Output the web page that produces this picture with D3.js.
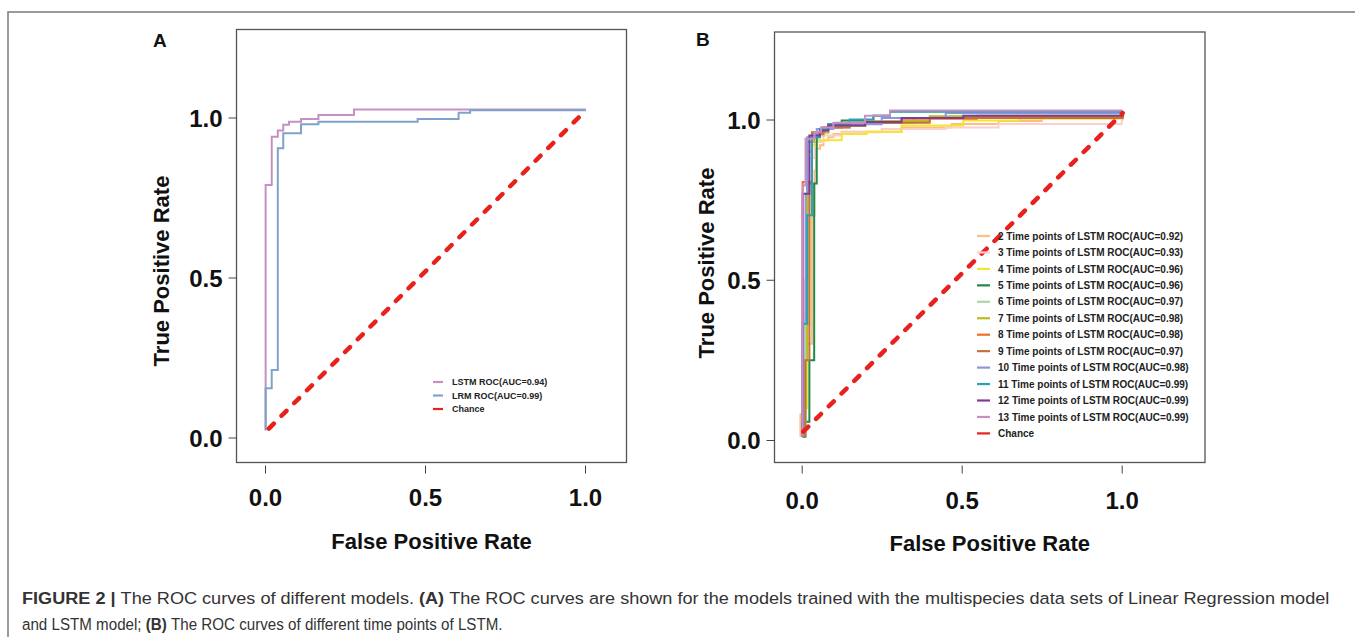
<!DOCTYPE html>
<html>
<head>
<meta charset="utf-8">
<script src="https://cdnjs.cloudflare.com/ajax/libs/d3/7.8.5/d3.min.js"></script>
<style>
    body { margin: 0; background: #fff; }
    svg { display: block; font-family: "Liberation Sans", Arial, sans-serif; }
</style>
</head>
<body>
<svg id="chart" width="1355" height="637"></svg>
<script>
// ---- Data ----
// Panel A: [fpr, tpr] points, each point = where the curve rises (step after)
const lstmA = [[0.002, 0.023], [0.002, 0.789], [0.021, 0.940], [0.040, 0.959], [0.057, 0.977],
    [0.075, 0.987], [0.1125, 0.995], [0.167, 1.008], [0.278, 1.025], [1.003, 1.025]];
const lrmA = [[0.002, 0.023], [0.002, 0.154], [0.021, 0.211], [0.040, 0.904], [0.057, 0.951],
    [0.1125, 0.979], [0.167, 0.987], [0.477, 0.995], [0.605, 1.015], [0.641, 1.023], [1.003, 1.023]];
const chanceA = [[0.012, 0.028], [1.003, 1.023]];
const seriesA = ['LSTM ROC(AUC=0.94)', 'LRM ROC(AUC=0.99)'];
const colorsA = ['#c590c2', '#7fa2cc'];

// Panel B: one curve per number of time points
const timePoints = [2, 3, 4, 5, 6, 7, 8, 9, 10, 11, 12, 13];
const aucB = [0.92, 0.93, 0.96, 0.96, 0.97, 0.98, 0.98, 0.97, 0.98, 0.99, 0.99, 0.99];
const colorsB = ['#fdbd85', '#f9cfd0', '#f5e52e', '#1f8a45', '#a9d8a3', '#bdbb22',
    '#f26c2b', '#c4713c', '#8f97d7', '#28a1bb', '#7a3d9e', '#c78fc4'];
const curvesB = [
    [[-0.004, 0.01], [-0.004, 0.08], [0.010, 0.30], [0.032, 0.70], [0.040, 0.84], [0.045, 0.909], [0.057, 0.92],
        [0.068, 0.935], [0.083, 0.945], [0.099, 0.955], [0.125, 0.962], [0.312, 0.975], [0.469, 0.986],
        [0.615, 0.995], [0.75, 1.005], [1.003, 1.015]],
    [[0.003, 0.01], [0.010, 0.50], [0.024, 0.88], [0.040, 0.93], [0.068, 0.95], [0.125, 0.96], [0.25, 0.97],
        [0.45, 0.975], [0.615, 0.986], [1.0, 1.0], [1.003, 1.02]],
    [[0.003, 0.01], [0.010, 0.10], [0.017, 0.36], [0.024, 0.80], [0.032, 0.92], [0.047, 0.935], [0.125, 0.955],
        [0.203, 0.962], [0.312, 0.981], [0.505, 0.997], [0.68, 1.002], [1.003, 1.02]],
    [[0.003, 0.01], [0.003, 0.057], [0.024, 0.249], [0.039, 0.80], [0.047, 0.945], [0.057, 0.96], [0.083, 0.985],
        [0.125, 0.997], [0.224, 1.012], [0.276, 1.025], [1.003, 1.025]],
    [[0.003, 0.01], [0.012, 0.40], [0.017, 0.90], [0.032, 0.95], [0.068, 0.975], [0.15, 0.99], [0.35, 1.005],
        [0.5, 1.012], [1.003, 1.02]],
    [[0.003, 0.01], [0.010, 0.25], [0.017, 0.93], [0.039, 0.96], [0.083, 0.98], [0.2, 0.995], [0.4, 1.01],
        [1.003, 1.02]],
    [[0.003, 0.01], [0.003, 0.805], [0.032, 0.945], [0.039, 0.955], [0.068, 0.975], [0.125, 0.99],
        [0.312, 1.002], [0.547, 1.012], [1.003, 1.02]],
    [[0.003, 0.01], [0.012, 0.249], [0.024, 0.80], [0.032, 0.96], [0.068, 0.975], [0.15, 0.99], [0.4, 1.005],
        [1.003, 1.02]],
    [[0.003, 0.01], [0.003, 0.363], [0.012, 0.768], [0.017, 0.945], [0.047, 0.97], [0.099, 0.985],
        [0.25, 1.005], [0.45, 1.02], [1.003, 1.025]],
    [[0.003, 0.01], [0.005, 0.363], [0.017, 0.701], [0.032, 0.945], [0.057, 0.97], [0.083, 0.985],
        [0.15, 1.0], [0.224, 1.012], [0.276, 1.025], [1.003, 1.025]],
    [[0.003, 0.01], [0.003, 0.768], [0.024, 0.95], [0.057, 0.966], [0.083, 0.981], [0.198, 0.992],
        [0.312, 1.005], [0.505, 1.012], [1.003, 1.02]],
    [[0.003, 0.01], [0.003, 0.794], [0.012, 0.94], [0.040, 0.96], [0.060, 0.975], [0.099, 0.99],
        [0.198, 1.012], [0.276, 1.028], [1.003, 1.028]]
];
const chanceB = [[0.005, 0.026], [1.003, 1.02]];

const tickValues = [0, 0.5, 1];
const chanceColor = '#e8211d';

const caption1 = [
    { t: 'FIGURE 2 | ', b: true },
    { t: 'The ROC curves of different models. ', b: false },
    { t: '(A) ', b: true },
    { t: 'The ROC curves are shown for the models trained with the multispecies data sets of Linear Regression model', b: false }
];
const caption2 = [
    { t: 'and LSTM model; ', b: false },
    { t: '(B) ', b: true },
    { t: 'The ROC curves of different time points of LSTM.', b: false }
];

const svg = d3.select('#chart');

// Outer figure frame (top and left edges)
svg.append('path')
    .attr('d', 'M8,637 L8,12 L1355,12')
    .attr('fill', 'none')
    .attr('stroke', '#7a7a7a')
    .attr('stroke-width', 1.5);

/**
 * Draw one ROC panel
 */
function drawPanel(cfg) {
    const g = svg.append('g');
    const x = d3.scaleLinear().domain([0, 1]).range(cfg.xRange);
    const y = d3.scaleLinear().domain([0, 1]).range(cfg.yRange);
    const b = cfg.box;

    // Plot box
    g.append('rect')
        .attr('x', b.x0).attr('y', b.y0)
        .attr('width', b.x1 - b.x0).attr('height', b.y1 - b.y0)
        .attr('fill', 'none')
        .attr('stroke', '#555')
        .attr('stroke-width', 1.3);

    // Axes
    const yAxis = g.append('g')
        .attr('transform', `translate(${b.x0},0)`)
        .call(d3.axisLeft(y).tickValues(tickValues).tickFormat(d3.format('.1f')).tickSize(8).tickPadding(6));
    const xAxis = g.append('g')
        .attr('transform', `translate(0,${b.y1 + 3})`)
        .call(d3.axisBottom(x).tickValues(tickValues).tickFormat(d3.format('.1f')).tickSize(8));
    [yAxis, xAxis].forEach(a => {
        a.select('.domain').remove();
        a.selectAll('line').attr('stroke', '#444');
        a.selectAll('text')
            .style('font-size', '24px')
            .style('font-weight', 'bold')
            .attr('fill', '#111');
    });
    xAxis.selectAll('text').attr('y', cfg.xLabelY).attr('dy', 0);
    yAxis.selectAll('text').attr('dy', '0.36em');

    // Axis titles
    g.append('text')
        .attr('x', (b.x0 + b.x1) / 2)
        .attr('y', cfg.xTitleY)
        .attr('text-anchor', 'middle')
        .style('font-size', '22px')
        .style('font-weight', 'bold')
        .attr('fill', '#111')
        .text('False Positive Rate');
    g.append('text')
        .attr('transform', `translate(${cfg.yTitleX},${cfg.yTitleC}) rotate(-90)`)
        .attr('text-anchor', 'middle')
        .attr('dy', '0.36em')
        .style('font-size', '22px')
        .style('font-weight', 'bold')
        .attr('fill', '#111')
        .text('True Positive Rate');

    // Panel letter
    g.append('text')
        .attr('x', cfg.letterX).attr('y', cfg.letterY)
        .style('font-size', '19px')
        .style('font-weight', 'bold')
        .attr('fill', '#111')
        .text(cfg.letter);

    // Curves
    const line = d3.line()
        .x(d => x(d[0]))
        .y(d => y(d[1]))
        .curve(d3.curveStepAfter);
    cfg.curves.forEach((c, i) => {
        g.append('path')
            .attr('d', line(c))
            .attr('fill', 'none')
            .attr('stroke', cfg.colors[i])
            .attr('stroke-width', 2);
    });

    // Chance diagonal
    g.append('path')
        .attr('d', d3.line().x(d => x(d[0])).y(d => y(d[1]))(cfg.chance))
        .attr('fill', 'none')
        .attr('stroke', chanceColor)
        .attr('stroke-width', 4.5)
        .attr('stroke-linecap', 'round')
        .attr('stroke-dasharray', '7,11');

    // Legend
    const lg = cfg.legend;
    const names = cfg.names.concat(['Chance']);
    const cols = cfg.colors.concat([chanceColor]);
    names.forEach((n, i) => {
        const yy = lg.y + i * lg.step;
        g.append('line')
            .attr('x1', lg.x).attr('x2', lg.x + lg.len)
            .attr('y1', yy).attr('y2', yy)
            .attr('stroke', cols[i])
            .attr('stroke-width', 2.2);
        g.append('text')
            .attr('x', lg.tx).attr('y', yy)
            .attr('dy', '0.36em')
            .style('font-size', lg.size + 'px')
            .style('font-weight', 'bold')
            .attr('fill', '#222')
            .text(n);
    });
}

drawPanel({
    letter: 'A', letterX: 153, letterY: 47,
    box: { x0: 236.5, y0: 29.5, x1: 626.5, y1: 462.5 },
    xRange: [265, 585], yRange: [437.5, 117.5],
    xLabelY: 40, xTitleY: 549, yTitleX: 161, yTitleC: 271,
    curves: [lstmA, lrmA], colors: colorsA, names: seriesA, chance: chanceA,
    legend: { x: 433, len: 10, tx: 452, y: 382, step: 13.5, size: 9 }
});

drawPanel({
    letter: 'B', letterX: 696, letterY: 46,
    box: { x0: 774.5, y0: 32, x1: 1205, y1: 462.5 },
    xRange: [801.7, 1121.7], yRange: [440, 119.5],
    xLabelY: 43, xTitleY: 551, yTitleX: 706, yTitleC: 263,
    curves: curvesB, colors: colorsB,
    names: timePoints.map((t, i) => `${t} Time points of LSTM ROC(AUC=${aucB[i].toFixed(2)})`),
    chance: chanceB,
    legend: { x: 977, len: 13, tx: 998, y: 236, step: 16.45, size: 10 }
});

// Caption: condensed look, squeezed horizontally to the reference width
function captionLine(parts, yPos, width) {
    const g = svg.append('g');
    const t = g.append('text')
        .attr('x', 0).attr('y', 0)
        .style('font-size', '17px')
        .attr('fill', '#333');
    parts.forEach(p => {
        t.append('tspan')
            .style('font-weight', p.b ? 'bold' : 'normal')
            .text(p.t);
    });
    const natural = t.node().getComputedTextLength();
    g.attr('transform', `translate(22,${yPos}) scale(${width / natural},1)`);
}
captionLine(caption1, 604, 1309);
captionLine(caption2, 630, 481);
</script>
</body>
</html>
